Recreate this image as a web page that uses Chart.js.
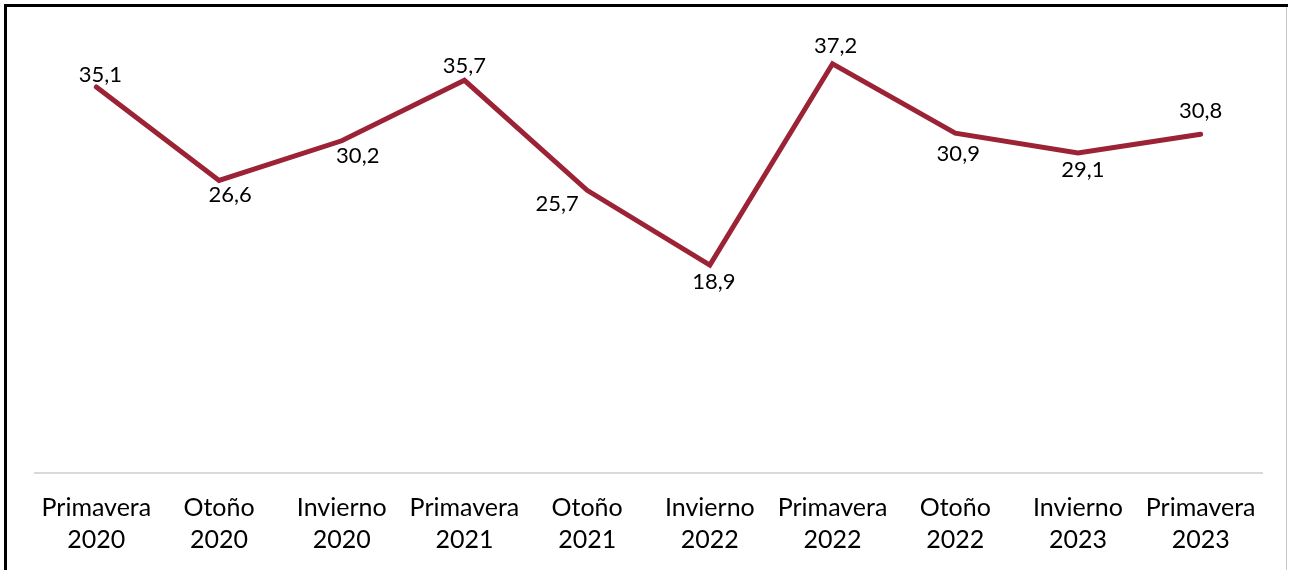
<!DOCTYPE html>
<html>
<head>
<meta charset="utf-8">
<script src="https://cdn.jsdelivr.net/npm/chart.js@4"></script>
<style>
  html, body { margin: 0; padding: 0; background: #fff; }
  #wrap { width: 1290px; height: 570px; }
</style>
</head>
<body>
<div id="wrap"><canvas id="seasonChart" width="1290" height="570"></canvas></div>
<script>
// DATA
const seasons = ["Primavera", "Otoño", "Invierno", "Primavera", "Otoño", "Invierno", "Primavera", "Otoño", "Invierno", "Primavera"];
const years = ["2020", "2020", "2020", "2021", "2021", "2022", "2022", "2022", "2023", "2023"];
const values = [35.1, 26.6, 30.2, 35.7, 25.7, 18.9, 37.2, 30.9, 29.1, 30.8];

// label placement next to each point (dx, dy in px)
const labelShift = [[4, -12], [11, 15], [16, 15], [0, -14], [-30, 14], [4, 17], [3, -18], [3, 21], [5, 17], [0, -23]];

const labels = seasons.map((s, i) => [s, years[i]]);

// FRAME
const framePlugin = {
    id: "frame",
    beforeDraw(chart) {
        const ctx = chart.ctx;
        ctx.save();
        ctx.fillStyle = "#fff";
        ctx.fillRect(0, 0, chart.width, chart.height);
        ctx.fillStyle = "#c8c8c8";
        ctx.fillRect(1286, 7, 1, chart.height - 7);
        ctx.fillStyle = "#000";
        ctx.fillRect(4, 4, 1284, 3);
        ctx.fillRect(4, 4, 3, chart.height - 4);
        ctx.restore();
    }
};

// DATA LABELS
const valueLabels = {
    id: "valueLabels",
    afterDatasetsDraw(chart) {
        const ctx = chart.ctx;
        const meta = chart.getDatasetMeta(0);
        ctx.save();
        ctx.font = "22px Lato";
        ctx.fillStyle = "#000";
        ctx.textAlign = "center";
        ctx.textBaseline = "middle";
        meta.data.forEach((pt, i) => {
            const txt = values[i].toFixed(1).replace(".", ",");
            ctx.fillText(txt, pt.x + labelShift[i][0], pt.y + labelShift[i][1]);
        });
        ctx.restore();
    }
};

document.addEventListener("DOMContentLoaded", () => {
    new Chart(document.getElementById("seasonChart"), {
        type: "line",
        data: {
            labels: labels,
            datasets: [{
                data: values,
                borderColor: "#9B2335",
                borderWidth: 5,
                borderCapStyle: "round",
                borderJoinStyle: "miter",
                pointRadius: 0,
                tension: 0,
                fill: false
            }]
        },
        options: {
            responsive: false,
            animation: false,
            events: [],
            layout: { padding: { left: 35, right: 28, top: 33, bottom: 0 } },
            plugins: { legend: { display: false }, tooltip: { enabled: false } },
            scales: {
                x: {
                    offset: true,
                    grid: { display: false, tickLength: 0 },
                    border: { display: true, color: "#d9d9d9", width: 2 },
                    ticks: {
                        autoSkip: false,
                        maxRotation: 0,
                        padding: 19,
                        color: "#000",
                        font: { family: "Lato", size: 25, lineHeight: 1.28 }
                    },
                    afterFit(scale) { scale.height = 97; }
                },
                y: { display: false, min: 0, max: 40 }
            }
        },
        plugins: [framePlugin, valueLabels]
    });
});
</script>
</body>
</html>
